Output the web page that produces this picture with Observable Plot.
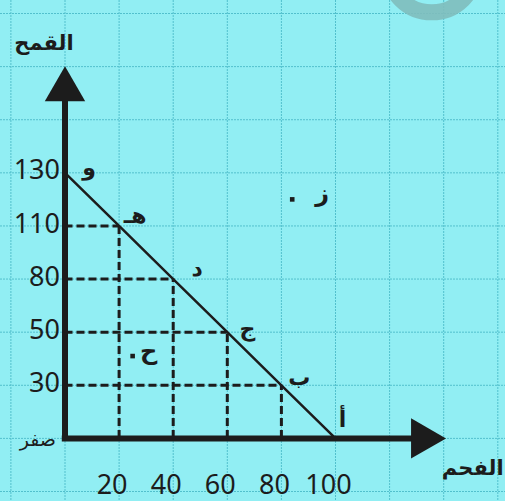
<!DOCTYPE html>
<html>
<head>
<meta charset="utf-8">
<script src="https://cdn.jsdelivr.net/npm/d3@7"></script>
<script src="https://cdn.jsdelivr.net/npm/@observablehq/plot@0.6"></script>
<style>
  html, body { margin: 0; padding: 0; background: #91eef3; }
  #chart svg { display: block; }
</style>
</head>
<body>
<div id="chart"></div>
<script>
// ---- data ----
const pointNames = ["و", "هـ", "د", "ج", "ب", "أ"];
const coal = [0, 20, 40, 60, 80, 100];        // الفحم
const wheat = [130, 110, 80, 50, 30, 0];      // القمح
const outsidePoint = {name: "ز", coal: 84, wheat: 120};
const insidePoint = {name: "ح", coal: 25, wheat: 41};
const xTickLabels = [20, 40, 60, 80, 100];
const yTickLabels = [30, 50, 80, 110, 130];
const zeroLabel = "صفر";
const xTitle = "الفحم";
const yTitle = "القمح";
const gridX = [-20, 0, 20, 40, 60, 80, 100, 120, 140, 160];
const gridY = [-30, 0, 30, 50, 80, 110, 130, 150, 170, 190];

// ---- layout (not data) ----
const labelOffsets = [[24, -5], [16, -10], [24, -10], [20, -3], [18, -7], [7, -18]];
const axisXEnd = 140, axisYEnd = 170;

// the wheat axis is drawn with equal spacing between its labelled values (one grid row each)
const wheatToRow = d3.scaleLinear().domain(gridY).range(gridY.map((_, i) => i - 1));

const points = pointNames.map((name, i) => ({name, x: coal[i], y: wheat[i], off: labelOffsets[i]}));
const inner = points.filter(p => p.x > 0 && p.y > 0);

const arabic = "DejaVu Sans, sans-serif";
const latin = "Noto Sans, Liberation Sans, sans-serif";
const ink = "#1c1c1c";

const marks = [
  // grid
  Plot.ruleX(gridX, {x: d => d, stroke: "#52c0cd", strokeWidth: 1, strokeDasharray: "2,1"}),
  Plot.ruleY(gridY, {y: d => d, stroke: "#52c0cd", strokeWidth: 1, strokeDasharray: "2,1"}),
  // watermark ring
  Plot.dot([0], {x: 135.6, y: 207, r: 44, stroke: "#7fbcbc", strokeWidth: 16, fill: "none", strokeOpacity: 0.9}),
  // dashed guides
  Plot.ruleY(inner, {y: "y", x1: 0, x2: "x", stroke: ink, strokeWidth: 3, strokeDasharray: "8,4"}),
  Plot.ruleX(inner, {x: "x", y1: 0, y2: "y", stroke: ink, strokeWidth: 3, strokeDasharray: "8,4"}),
  // PPF
  Plot.line(points, {x: "x", y: "y", stroke: ink, strokeWidth: 2.5}),
  // axes
  Plot.ruleX([0], {x: d => d, y1: -1.2, y2: axisYEnd - 12, stroke: ink, strokeWidth: 6}),
  Plot.ruleY([0], {y: d => d, x1: -1, x2: axisXEnd - 10, stroke: ink, strokeWidth: 6}),
  Plot.dot([0], {x: 0, y: axisYEnd, dy: 23, symbol: "triangle", r: 15, fill: ink, stroke: "none"}),
  Plot.dot([0], {x: axisXEnd, y: 0, dx: -21, symbol: "triangle", rotate: 90, r: 15, fill: ink, stroke: "none"}),
  // tick labels
  Plot.text(yTickLabels, {x: 0, y: d => d, text: d => String(d), dx: -5, dy: -2, textAnchor: "end", fontSize: 27, fontFamily: latin, fill: ink}),
  Plot.text(xTickLabels, {x: d => d, y: 0, text: d => String(d), dx: -7, dy: 47, fontSize: 27, fontFamily: latin, fill: ink}),
  Plot.text([zeroLabel], {x: 0, y: 0, text: d => d, dx: -9, dy: 2, textAnchor: "end", fontSize: 19, fontFamily: arabic, fill: ink}),
  // axis titles
  Plot.text([yTitle], {x: 0, y: axisYEnd, text: d => d, dx: -21, dy: -23, fontSize: 21, fontWeight: "bold", fontFamily: arabic, fill: ink}),
  Plot.text([xTitle], {x: axisXEnd, y: 0, text: d => d, dx: 29, dy: 30, fontSize: 21, fontWeight: "bold", fontFamily: arabic, fill: ink}),
  // point labels
  ...points.map(p => Plot.text([p], {x: "x", y: "y", text: "name", dx: p.off[0], dy: p.off[1], fontSize: 22, fontWeight: "bold", fontFamily: arabic, fill: ink})),
  // extra points
  Plot.dot([outsidePoint, insidePoint], {x: "coal", y: "wheat", symbol: "square", r: 2.6, fill: ink, stroke: "none"}),
  Plot.text([outsidePoint], {x: "coal", y: "wheat", text: "name", dx: 30, dy: -6, fontSize: 24, fontWeight: "bold", fontFamily: arabic, fill: ink}),
  Plot.text([insidePoint], {x: "coal", y: "wheat", text: "name", dx: 16, dy: -5, fontSize: 24, fontWeight: "bold", fontFamily: arabic, fill: ink})
];

const chart = Plot.plot({
  width: 505,
  height: 501,
  margin: 0,
  style: {background: "#91eef3", overflow: "hidden"},
  x: {domain: [-20, 160], range: [10.4, 497.3], axis: null},
  y: {transform: wheatToRow, domain: [-1, 8], range: [491, 13], axis: null},
  marks
});
document.getElementById("chart").appendChild(chart);
</script>
</body>
</html>
